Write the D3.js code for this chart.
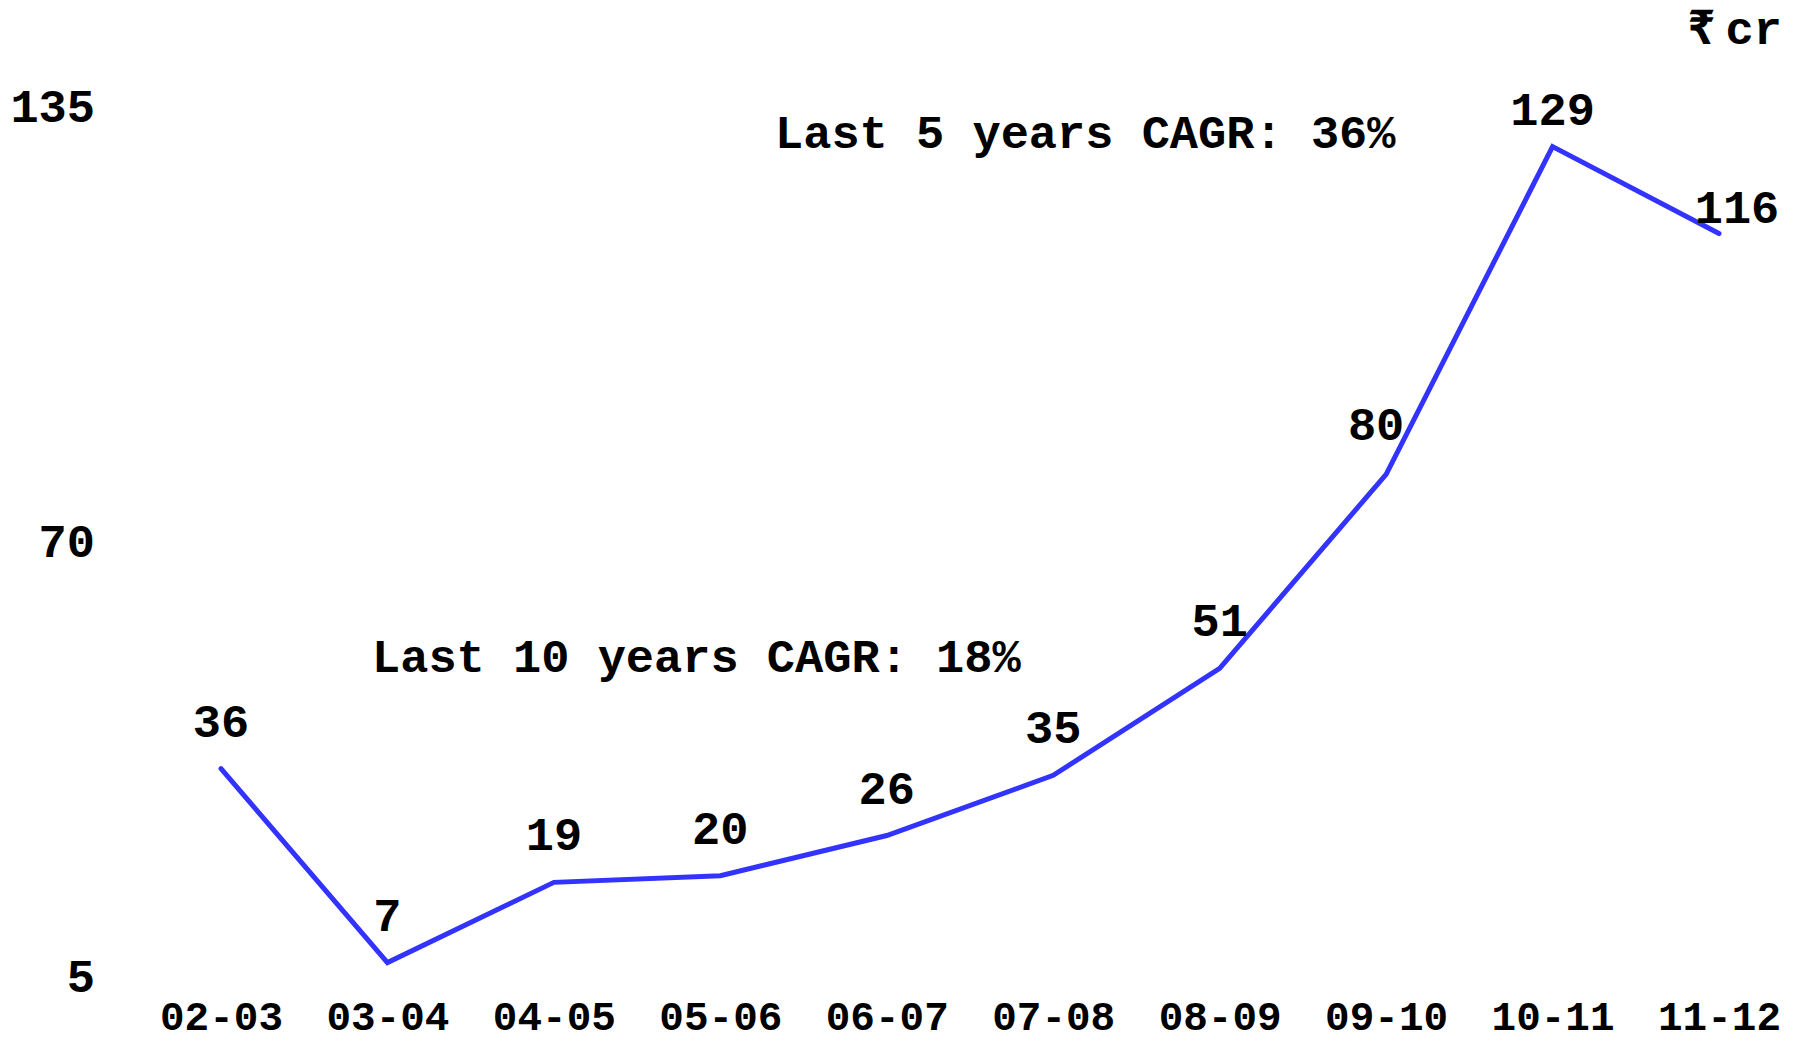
<!DOCTYPE html>
<html>
<head>
<meta charset="utf-8">
<script src="https://cdn.jsdelivr.net/npm/d3@7"></script>
<style>
  html, body { margin: 0; padding: 0; background: #ffffff; }
  svg { display: block; }
  text { font-family: "Liberation Mono", "DejaVu Sans Mono", monospace; font-weight: bold; fill: #000; }
</style>
</head>
<body>
<svg id="chart" width="1797" height="1044"></svg>
<script>
// Fiscal years and the series (₹ crore)
const years = ["02-03", "03-04", "04-05", "05-06", "06-07", "07-08", "08-09", "09-10", "10-11", "11-12"];
const values = [36, 7, 19, 20, 26, 35, 51, 80, 129, 116];
const yTicks = [5, 70, 135];
const unitParts = ["₹", "cr"];
const cagrNotes = ["Last 10 years CAGR: 18%", "Last 5 years CAGR: 36%"];

const svg = d3.select("#chart");

const x = d3.scalePoint().domain(years).range([221, 1719]);
const y = d3.scaleLinear().domain([5, 135]).range([976, 106.5]);

// Y axis: labels only
const yAxis = svg.append("g")
  .attr("transform", "translate(95,0)")
  .call(d3.axisLeft(y).tickValues(yTicks).tickSize(0).tickPadding(0).tickFormat(d3.format("d")));
yAxis.select(".domain").remove();
yAxis.selectAll("text")
  .style("font-family", null)
  .attr("font-size", 47)
  .attr("dy", "0.32em");

// X axis: category labels only, baseline close to the bottom edge
const xAxis = svg.append("g")
  .attr("transform", "translate(0,1030)")
  .call(d3.axisBottom(x).tickSize(0).tickPadding(0));
xAxis.select(".domain").remove();
xAxis.selectAll("text")
  .style("font-family", null)
  .attr("font-size", 41)
  .attr("y", 0)
  .attr("dy", 0);

// The line
const line = d3.line()
  .x((d, i) => x(years[i]))
  .y(d => y(d));

svg.append("path")
  .datum(values)
  .attr("fill", "none")
  .attr("stroke", "#3333ff")
  .attr("stroke-width", 5)
  .attr("stroke-linecap", "round")
  .attr("stroke-linejoin", "miter")
  .attr("d", line);

// Value labels above each point; a few are nudged off the line
const nudge = { "09-10": [-10, -34], "10-11": [0, -22], "11-12": [18, -11] };
svg.append("g")
  .selectAll("text")
  .data(values)
  .join("text")
  .attr("text-anchor", "middle")
  .attr("font-size", 47)
  .attr("x", (d, i) => x(years[i]) + (nudge[years[i]] ? nudge[years[i]][0] : 0))
  .attr("y", (d, i) => y(d) + (nudge[years[i]] ? nudge[years[i]][1] : -32))
  .text(d => d);

// CAGR annotations
svg.append("text")
  .attr("x", 372).attr("y", 672)
  .attr("font-size", 47)
  .text(cagrNotes[0]);
svg.append("text")
  .attr("x", 775).attr("y", 148)
  .attr("font-size", 47)
  .text(cagrNotes[1]);

// Unit label: rupee sign followed by "cr"
const unit = svg.append("text")
  .attr("x", 1782).attr("y", 44)
  .attr("text-anchor", "end")
  .attr("font-size", 47);
unit.append("tspan").text(unitParts[0]);
unit.append("tspan").attr("dx", 10).text(unitParts[1]);
</script>
</body>
</html>
